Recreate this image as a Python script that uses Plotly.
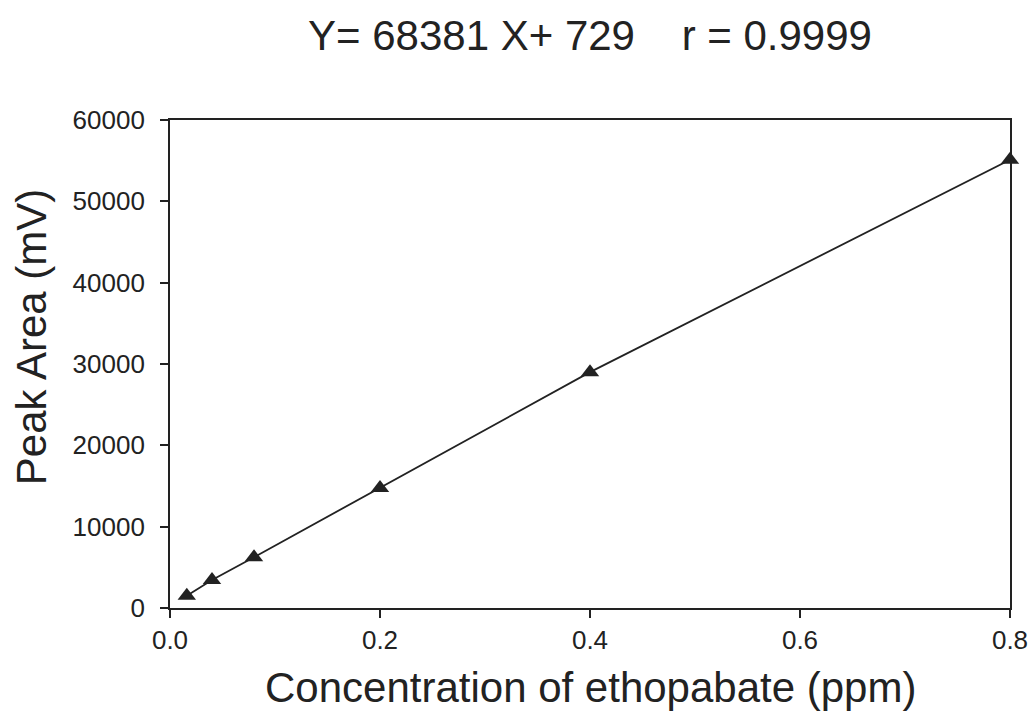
import plotly.graph_objects as go

conc = [0.016, 0.04, 0.08, 0.2, 0.4, 0.8]
area = [1500, 3450, 6250, 14750, 29000, 55100]
x_ticks = [0.0, 0.2, 0.4, 0.6, 0.8]
x_ticktext = ["0.0", "0.2", "0.4", "0.6", "0.8"]
y_ticks = [0, 10000, 20000, 30000, 40000, 50000, 60000]
y_ticktext = ["0", "10000", "20000", "30000", "40000", "50000", "60000"]

FONT = "Liberation Sans, Arial, sans-serif"
INK = "#222222"

fig = go.Figure()
fig.add_trace(go.Scatter(
    x=conc, y=area, mode="lines+markers",
    line=dict(color=INK, width=1.8),
    marker=dict(symbol="triangle-up", size=16, color=INK),
    showlegend=False, cliponaxis=False,
))

fig.update_layout(
    width=1030, height=711,
    margin=dict(l=170, r=20, t=120, b=103),
    paper_bgcolor="white", plot_bgcolor="white",
    font=dict(family=FONT, color=INK),
    xaxis=dict(range=[0, 0.8], tickvals=x_ticks, ticktext=x_ticktext,
               ticks="outside", ticklen=8, tickwidth=1.6, tickcolor=INK,
               showline=True, linecolor=INK, linewidth=1.8, mirror=True,
               showgrid=False, zeroline=False, automargin=False,
               tickfont=dict(size=26, family=FONT, color=INK)),
    yaxis=dict(range=[0, 60000], tickvals=y_ticks, ticktext=y_ticktext,
               ticks="outside", ticklen=8, tickwidth=1.6, tickcolor=INK,
               showline=True, linecolor=INK, linewidth=1.8, mirror=True,
               showgrid=False, zeroline=False, ticklabelstandoff=10,
               automargin=False,
               tickfont=dict(size=26, family=FONT, color=INK)),
    annotations=[
        dict(text="Y= 68381 X+ 729    r = 0.9999", xref="paper", yref="paper",
             x=0.5, y=1.0, yshift=85, showarrow=False,
             font=dict(size=42, family=FONT, color=INK),
             xanchor="center", yanchor="middle"),
        dict(text="Concentration of ethopabate (ppm)", xref="paper", yref="paper",
             x=0.5, y=0, yshift=-79, showarrow=False,
             font=dict(size=42, family=FONT, color=INK),
             xanchor="center", yanchor="middle"),
        dict(text="Peak Area (mV)", xref="paper", yref="paper",
             x=0, y=0.555, xshift=-139, showarrow=False, textangle=-90,
             font=dict(size=42, family=FONT, color=INK),
             xanchor="center", yanchor="middle"),
    ],
)

fig.write_html("out.html")
